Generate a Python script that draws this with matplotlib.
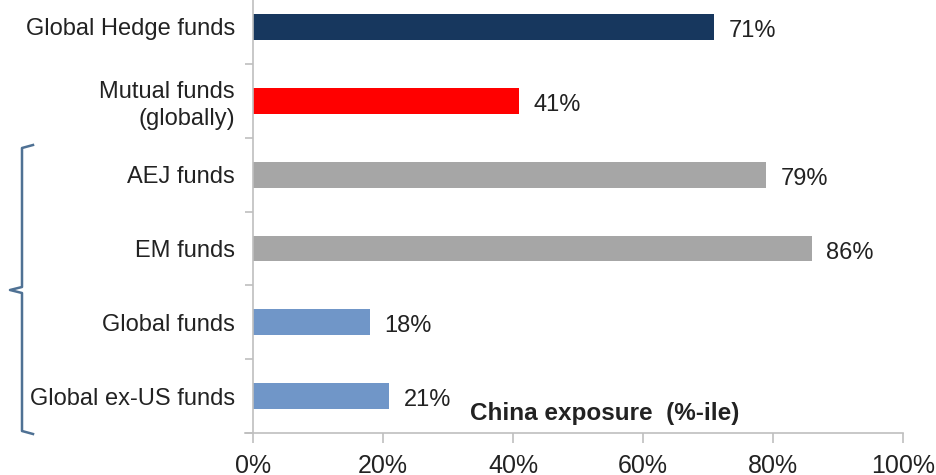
import matplotlib
matplotlib.use("Agg")
import matplotlib.pyplot as plt
from matplotlib.lines import Line2D
from matplotlib.ticker import FixedLocator, PercentFormatter

categories = ["Global Hedge funds", "Mutual funds\n(globally)", "AEJ funds",
              "EM funds", "Global funds", "Global ex-US funds"]
values = [71, 41, 79, 86, 18, 21]
colors = ["#17375e", "#ff0000", "#a6a6a6", "#a6a6a6", "#7096c8", "#7096c8"]
xticks = [0, 20, 40, 60, 80, 100]

plt.rcParams["font.family"] = ["Liberation Sans", "DejaVu Sans"]
TXT = "#222222"
AXC = "#bfbfbf"

fig = plt.figure(figsize=(9.36, 4.75), dpi=100)
ax = fig.add_axes([0.2703, 0.0884, 0.6944, 0.9326])

ypos = list(range(len(categories)))
ax.barh(ypos, values, height=0.35, color=colors)
ax.set_ylim(len(categories) - 0.5, -0.5)
ax.set_xlim(0, 100)

for y, v in zip(ypos, values):
    ax.annotate(f"{v}%", xy=(v, y), xytext=(10, -3), textcoords="offset points",
                ha="left", va="center", fontsize=17, color=TXT)

ax.set_yticks(ypos)
ax.set_yticklabels(categories, fontsize=17, color=TXT, linespacing=1.3)
ax.yaxis.set_minor_locator(FixedLocator([i + 0.5 for i in range(-1, len(categories))]))
ax.tick_params(axis="y", which="major", length=0, pad=13)
ax.tick_params(axis="y", which="minor", length=6, color=AXC, width=1.2)

ax.set_xticks(xticks)
ax.xaxis.set_major_formatter(PercentFormatter(decimals=0))
ax.tick_params(axis="x", length=7, color=AXC, width=1.2, labelsize=18,
               labelcolor=TXT, pad=8)

for side in ("top", "right"):
    ax.spines[side].set_visible(False)
for side in ("left", "bottom"):
    ax.spines[side].set_color(AXC)
    ax.spines[side].set_linewidth(1.2)
ax.spines["bottom"].set_bounds(-1.2, 100)

ax.text(0.334, 0.045, "China exposure  (%-ile)", transform=ax.transAxes,
        fontsize=17.5, fontweight="bold", color=TXT, ha="left", va="center")

# bracket grouping the regional / global fund categories
W, H = 936.0, 475.0
bx = [33, 22, 22, 10, 22, 22, 33]
by = [145, 148, 287, 290, 293, 431, 434]
fig.add_artist(Line2D([p / W for p in bx], [1 - p / H for p in by],
                      color="#4f7194", linewidth=1.8, solid_joinstyle="round"))

fig.savefig("out.png", dpi=100)
